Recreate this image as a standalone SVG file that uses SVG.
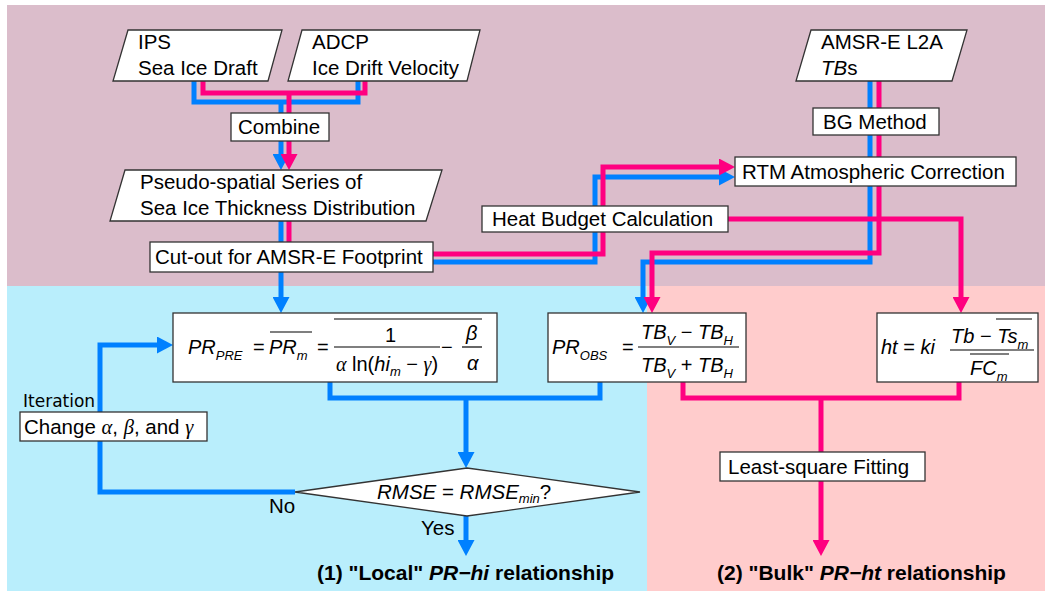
<svg xmlns="http://www.w3.org/2000/svg" width="1045" height="593" viewBox="0 0 1045 593">
  <style>
    .box { fill: #ffffff; stroke: #333333; stroke-width: 1.3; }
    .lbl { font-family: "Liberation Sans", Arial, sans-serif; font-size: 20.5px; fill: #000000; }
    .it { font-style: italic; }
    .gr { font-family: "Liberation Serif", "Times New Roman", serif; font-style: italic; }
    .eq { font-family: "Liberation Sans", Arial, sans-serif; font-size: 20px; fill: #000000; }
    .sub { font-size: 13px; font-style: italic; }
    .bar { stroke: #000000; stroke-width: 1.2; fill: none; }
    .title { font-family: "Liberation Sans", Arial, sans-serif; font-size: 21px; font-weight: bold; fill: #000000; }
    .blue { fill: none; stroke: #0080ff; stroke-width: 5; stroke-linejoin: miter; }
    .pink { fill: none; stroke: #ff0080; stroke-width: 5; stroke-linejoin: miter; }
  </style>
  <defs>
    <marker id="arrowBlue" viewBox="0 0 16 17" refX="0" refY="8.5" markerWidth="16" markerHeight="17" markerUnits="userSpaceOnUse" orient="auto">
      <path d="M0,0 L16,8.5 L0,17 z" fill="#0080ff"/>
    </marker>
    <marker id="arrowPink" viewBox="0 0 16 17" refX="0" refY="8.5" markerWidth="16" markerHeight="17" markerUnits="userSpaceOnUse" orient="auto">
      <path d="M0,0 L16,8.5 L0,17 z" fill="#ff0080"/>
    </marker>
  </defs>

  <!-- background zones -->
  <g id="zones">
    <rect x="7" y="5" width="1038" height="281" fill="#dbbdcb"/>
    <rect x="7" y="286" width="640" height="305" fill="#b9eefc"/>
    <rect x="647" y="286" width="398" height="305" fill="#ffcccc"/>
  </g>

  <!-- connectors -->
  <g id="connectors">
    <g id="blue-flow">
      <path class="blue" d="M194,81 V102 H358 V81"/>
      <path class="blue" d="M281,102 V154" marker-end="url(#arrowBlue)"/>
      <path class="blue" d="M281,221 V242"/>
      <path class="blue" d="M281,272 V297" marker-end="url(#arrowBlue)"/>
      <path class="blue" d="M433,262 H595 V177 H719" marker-end="url(#arrowBlue)"/>
      <path class="blue" d="M870,81 V262 H643 V297" marker-end="url(#arrowBlue)"/>
      <path class="blue" d="M330,382 V398 H600 V382"/>
      <path class="blue" d="M466,398 V452" marker-end="url(#arrowBlue)"/>
      <path class="blue" d="M295,492 H100 V345 H157" marker-end="url(#arrowBlue)"/>
      <path class="blue" d="M466,516 V540" marker-end="url(#arrowBlue)"/>
    </g>
    <g id="pink-flow">
      <path class="pink" d="M203,81 V93 H365 V81"/>
      <path class="pink" d="M289,93 V154" marker-end="url(#arrowPink)"/>
      <path class="pink" d="M289,221 V242"/>
      <path class="pink" d="M433,254 H603 V167 H719" marker-end="url(#arrowPink)"/>
      <path class="pink" d="M879,81 V253 H652 V297" marker-end="url(#arrowPink)"/>
      <path class="pink" d="M728,219 H961 V297" marker-end="url(#arrowPink)"/>
      <path class="pink" d="M683,382 V398 H959 V382"/>
      <path class="pink" d="M821,398 V540" marker-end="url(#arrowPink)"/>
    </g>
  </g>

  <!-- data sources -->
  <g id="ips">
    <polygon class="box" points="128,30 282,30 268,81 113,81"/>
    <text class="lbl" x="138" y="49">IPS</text>
    <text class="lbl" x="138" y="75">Sea Ice Draft</text>
  </g>
  <g id="adcp">
    <polygon class="box" points="302,30 480,30 467,81 288,81"/>
    <text class="lbl" x="312" y="49">ADCP</text>
    <text class="lbl" x="312" y="75">Ice Drift Velocity</text>
  </g>
  <g id="amsre">
    <polygon class="box" points="811,30 967,30 952,81 796,81"/>
    <text class="lbl" x="821" y="49">AMSR-E L2A</text>
    <text class="lbl" x="821" y="75"><tspan class="it">TB</tspan>s</text>
  </g>

  <!-- processing steps -->
  <g id="combine">
    <rect class="box" x="231" y="113" width="98" height="28"/>
    <text class="lbl" x="238" y="134">Combine</text>
  </g>
  <g id="pseudo-series">
    <polygon class="box" points="125,170 442,170 426,221 110,221"/>
    <text class="lbl" x="140" y="189">Pseudo-spatial Series of</text>
    <text class="lbl" x="140" y="215">Sea Ice Thickness Distribution</text>
  </g>
  <g id="cutout">
    <rect class="box" x="150" y="242" width="283" height="30"/>
    <text class="lbl" x="155" y="264">Cut-out for AMSR-E Footprint</text>
  </g>
  <g id="bg-method">
    <rect class="box" x="813" y="108" width="126" height="27"/>
    <text class="lbl" x="823" y="129">BG Method</text>
  </g>
  <g id="rtm">
    <rect class="box" x="735" y="157" width="281" height="29"/>
    <text class="lbl" x="742" y="179">RTM Atmospheric Correction</text>
  </g>
  <g id="heat-budget">
    <rect class="box" x="482" y="206" width="246" height="26"/>
    <text class="lbl" x="492" y="226">Heat Budget Calculation</text>
  </g>

  <!-- PR_PRE model -->
  <g id="pr-pre">
    <rect class="box" x="173" y="313" width="324" height="69"/>
    <text class="eq" x="188" y="354"><tspan class="it">PR</tspan><tspan class="sub" dy="6">PRE</tspan></text>
    <text class="eq" x="253" y="354">=</text>
    <text class="eq" x="269" y="354"><tspan class="it">PR</tspan><tspan class="sub" dy="6">m</tspan></text>
    <line class="bar" x1="270" y1="332" x2="312" y2="332"/>
    <text class="eq" x="317" y="354">=</text>
    <line class="bar" x1="334" y1="319" x2="482" y2="319"/>
    <text class="eq" x="385" y="342">1</text>
    <line class="bar" x1="334" y1="347" x2="440" y2="347"/>
    <text class="eq" x="336" y="371"><tspan class="gr">α</tspan> ln(<tspan class="it">hi</tspan><tspan class="sub" dy="5">m</tspan><tspan dy="-5"> − </tspan><tspan class="gr">γ</tspan>)</text>
    <text class="eq" x="441" y="354">−</text>
    <text class="eq gr" x="466" y="340">β</text>
    <line class="bar" x1="462" y1="347" x2="482" y2="347"/>
    <text class="eq gr" x="467" y="370">α</text>
  </g>

  <!-- PR_OBS observation -->
  <g id="pr-obs">
    <rect class="box" x="548" y="313" width="198" height="69"/>
    <text class="eq" x="552" y="354"><tspan class="it">PR</tspan><tspan class="sub" dy="6">OBS</tspan></text>
    <text class="eq" x="622" y="354">=</text>
    <text class="eq" x="641" y="339"><tspan class="it">TB</tspan><tspan class="sub" dy="6">V</tspan><tspan dy="-6"> − </tspan><tspan class="it">TB</tspan><tspan class="sub" dy="6">H</tspan></text>
    <line class="bar" x1="638" y1="347" x2="739" y2="347"/>
    <text class="eq" x="641" y="372"><tspan class="it">TB</tspan><tspan class="sub" dy="6">V</tspan><tspan dy="-6"> + </tspan><tspan class="it">TB</tspan><tspan class="sub" dy="6">H</tspan></text>
  </g>

  <!-- ht heat-budget thickness -->
  <g id="ht">
    <rect class="box" x="877" y="313" width="161" height="69"/>
    <text class="eq" x="881" y="354"><tspan class="it">ht</tspan> = <tspan class="it">ki</tspan></text>
    <text class="eq" x="951" y="343"><tspan class="it">Tb</tspan> − <tspan class="it">Ts</tspan><tspan class="sub" dy="6">m</tspan></text>
    <line class="bar" x1="996" y1="319" x2="1032" y2="319"/>
    <line class="bar" x1="950" y1="350" x2="1034" y2="350"/>
    <line class="bar" x1="970" y1="354" x2="1009" y2="354"/>
    <text class="eq" x="970" y="375"><tspan class="it">FC</tspan><tspan class="sub" dy="6">m</tspan></text>
  </g>

  <!-- iteration loop -->
  <g id="iteration">
    <text x="23" y="407" font-family="'DejaVu Sans', Verdana, sans-serif" font-size="17" fill="#000000">Iteration</text>
    <rect class="box" x="20" y="412" width="187" height="29"/>
    <text class="lbl" x="24" y="434">Change <tspan class="gr">α</tspan>, <tspan class="gr">β</tspan>, and <tspan class="gr">γ</tspan></text>
  </g>

  <g id="rmse-check">
    <polygon class="box" points="295,492 467,468 640,492 467,516"/>
    <text class="lbl" x="377" y="499"><tspan class="it">RMSE</tspan> = <tspan class="it">RMSE</tspan><tspan class="sub" dy="4">min</tspan><tspan dy="-4">?</tspan></text>
    <text class="lbl" x="269" y="513">No</text>
    <text class="lbl" x="421" y="535">Yes</text>
  </g>

  <g id="least-square">
    <rect class="box" x="720" y="452" width="205" height="29"/>
    <text class="lbl" x="728" y="474">Least-square Fitting</text>
  </g>

  <!-- outcomes -->
  <g id="local-relationship">
    <text class="title" x="317" y="580">(1) "Local" <tspan font-style="italic">PR−hi</tspan> relationship</text>
  </g>
  <g id="bulk-relationship">
    <text class="title" x="717" y="580">(2) "Bulk" <tspan font-style="italic">PR−ht</tspan> relationship</text>
  </g>
</svg>
